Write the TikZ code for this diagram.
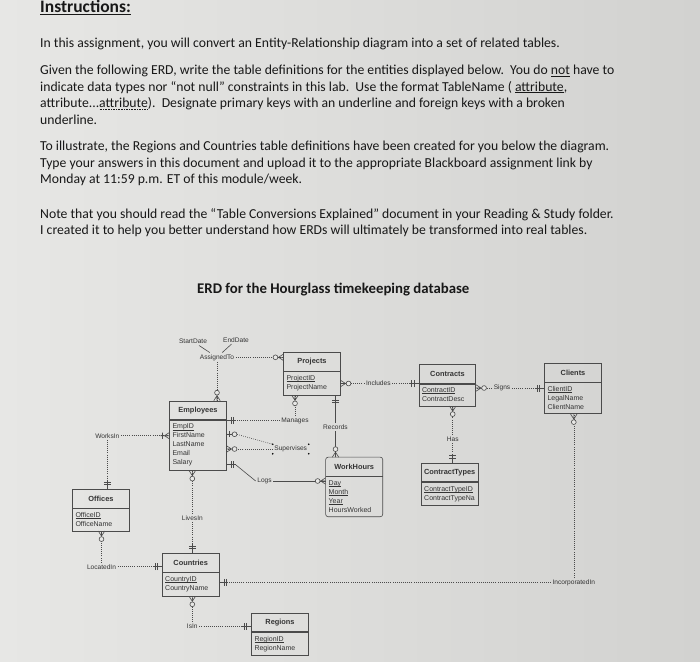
\documentclass[tikz,border=0pt]{standalone}
\usepackage{fontspec}
\setmainfont{Carlito}
\newfontfamily\erdfont{Liberation Sans}
\usetikzlibrary{positioning,calc}

\definecolor{paper}{RGB}{231,231,229}
\definecolor{paperlight}{RGB}{235,235,233}
\definecolor{paperdark}{RGB}{210,210,208}
\definecolor{ink}{RGB}{24,24,24}
\definecolor{erdink}{RGB}{52,52,52}
\definecolor{erdgray}{RGB}{75,75,75}

% broken (dotted) underline
\newcommand\brokenul[1]{\leavevmode\setbox0\hbox{#1}\rlap{\copy0}\raisebox{-2.2pt}{\hbox to \wd0{\xleaders\hbox to 1.6pt{\hss\rule{0.8pt}{0.7pt}\hss}\hfill}}}
% key underline for the ERD
\newcommand\keyul[1]{\leavevmode\setbox0\hbox{#1}\rlap{\copy0}\rule[-1.1pt]{\wd0}{0.45pt}}

\tikzset{
  para/.style={anchor=base west, inner sep=0pt, text=ink, font=\fontsize{13.7}{16.7}\selectfont},
  entity/.style={draw=erdgray, line width=0.6pt, minimum width=56.5pt, minimum height=18.5pt, inner sep=0pt, text=erdink, font=\erdfont\bfseries\fontsize{7.4}{8}\selectfont},
  attrs/.style={draw=erdgray, line width=0.6pt, text width=51pt, inner xsep=2.75pt, inner ysep=4pt, align=left, text=erdink, font=\erdfont\fontsize{7}{9}\selectfont},
  rel/.style={inner sep=1.5pt, text=erdink, font=\erdfont\fontsize{6.6}{8}\selectfont},
  conn/.style={draw=erdgray, line width=0.6pt, dash pattern=on 0.8pt off 1.3pt},
  idconn/.style={draw=erdgray, line width=0.6pt},
  onlyone/.pic={\draw[idconn] (0,0) -- (9,0) (5,-3.5) -- (5,3.5) (7.2,-3.5) -- (7.2,3.5);},
  zeromany/.pic={\draw[idconn] (0,-3.2) -- (5,0) -- (0,3.2) (0,0) -- (5.6,0);
    \draw[idconn, fill=paper] (8,0) circle (2.4);},
  zeroone/.pic={\draw[idconn] (0,0) -- (5.6,0) (2.8,-3.2) -- (2.8,3.2);
    \draw[idconn, fill=paper] (8,0) circle (2.4);},
  onemany/.pic={\draw[idconn] (0,-3.2) -- (5,0) -- (0,3.2) (0,0) -- (9,0) (7,-3.2) -- (7,3.2);}
}

\begin{document}
\begin{tikzpicture}[x=1pt,y=-1pt]

  \useasboundingbox (0,0) rectangle (700,661);
  \shade[left color=paper, middle color=paperlight, right color=paperdark] (0,0) rectangle (700,661);

  %instructions:
  \node[para, font=\bfseries\fontsize{17.5}{20}\selectfont] (head) at (40,12.5) {\underline{Instructions:}};
  \node[para] (intro) at (40,48) {In this assignment, you will convert an Entity-Relationship diagram into a set of related tables.};
  \node[para] (given1) at (40,74.5) {Given the following ERD, write the table definitions for the entities displayed below.\ \ You do \underline{not} have to};
  \node[para] (given2) at (40,91) {indicate data types nor “not null” constraints in this lab.\ \ Use the format TableName ( \underline{attribute},};
  \node[para] (given3) at (40,107.5) {attribute...\brokenul{attribute}).\ \ Designate primary keys with an underline and foreign keys with a broken};
  \node[para] (given4) at (40,124) {underline.};
  \node[para] (illus1) at (40,150.5) {To illustrate, the Regions and Countries table definitions have been created for you below the diagram.};
  \node[para] (illus2) at (40,167) {Type your answers in this document and upload it to the appropriate Blackboard assignment link by};
  \node[para] (illus3) at (40,183.5) {Monday at 11:59 p.m. ET of this module/week.};
  \node[para] (note1) at (40,218) {Note that you should read the “Table Conversions Explained” document in your Reading \& Study folder.};
  \node[para] (note2) at (40,234.5) {I created it to help you better understand how ERDs will ultimately be transformed into real tables.};
  \node[para, font=\bfseries\fontsize{14.8}{17}\selectfont] (title) at (197,293) {ERD for the Hourglass timekeeping database};

  %entities:
  \node[entity] (prj) at (312,361.7) {Projects};
  \node[attrs, below=0pt of prj] (prjA) {\keyul{ProjectID}\\ProjectName};
  \node[entity] (con) at (447.5,374) {Contracts};
  \node[attrs, below=0pt of con] (conA) {\keyul{ContractID}\\ContractDesc};
  \node[entity] (cli) at (573,372.8) {Clients};
  \node[attrs, below=0pt of cli] (cliA) {\keyul{ClientID}\\LegalName\\ClientName};
  \node[entity] (emp) at (198,410.2) {Employees};
  \node[attrs, below=0pt of emp] (empA) {\keyul{EmpID}\\FirstName\\LastName\\Email\\Salary};
  \node[entity, draw=none] (wh) at (354.2,466.7) {WorkHours};
  \node[attrs, draw=none, below=0pt of wh] (whA) {\keyul{Day}\\\keyul{Month}\\\keyul{Year}\\HoursWorked};
  \draw[idconn, rounded corners=2.5pt] (wh.north west) rectangle (whA.south east);
  \draw[idconn] (wh.south west) -- (wh.south east);
  \node[entity] (ct) at (449.7,472.5) {ContractTypes};
  \node[attrs, below=0pt of ct] (ctA) {\keyul{ContractTypeID}\\ContractTypeNa};
  \node[entity] (off) at (101,498.8) {Offices};
  \node[attrs, below=0pt of off] (offA) {\keyul{OfficeID}\\OfficeName};
  \node[entity] (cty) at (190.7,562.8) {Countries};
  \node[attrs, below=0pt of cty] (ctyA) {\keyul{CountryID}\\CountryName};
  \node[entity] (reg) at (280,622.2) {Regions};
  \node[attrs, below=0pt of reg] (regA) {\keyul{RegionID}\\RegionName};

  %relationships:
  \node[rel] (sd) at (193,341.5) {StartDate};
  \node[rel] (ed) at (236,340) {EndDate};
  \node[rel] (asg) at (217,357.3) {AssignedTo};
  \node[rel] (man) at (295,420.7) {Manages};
  \node[rel] (rec) at (335.5,427.3) {Records};
  \node[rel] (sup) at (290.7,449) {Supervises};
  \node[rel] (logs) at (264.5,481) {Logs};
  \node[rel] (wi) at (107.3,435.7) {WorksIn};
  \node[rel] (li) at (192.3,517.7) {LivesIn};
  \node[rel] (loc) at (101.5,566.7) {LocatedIn};
  \node[rel] (isin) at (192.3,626) {IsIn};
  \node[rel] (inc) at (573.8,582.3) {IncorporatedIn};
  \node[rel] (incl) at (378.3,383.5) {Includes};
  \node[rel] (sig) at (502,388) {Signs};
  \node[rel] (has) at (452.7,439) {Has};
  \foreach \c in {north west,north east,south west,south east}
    \fill[black] (sup.\c) circle (0.9);

  %connectors:
  \draw[idconn] (sd) -- (asg);
  \draw[idconn] (ed) -- (asg);
  \draw[conn] (asg.east) -- (asg.east -| prj.west);
  \draw[conn] (asg.south) -- (asg.south |- emp.north);
  \draw[conn] (man.west) -- (man.west -| emp.east);
  \draw[conn] (man.north) -- (man.north |- prjA.south);
  \draw[idconn] (rec.north) -- (rec.north |- prjA.south);
  \draw[idconn] (rec.south) -- (rec.south |- wh.north);
  \draw[conn] ($(empA.north east)+(0,14.5)$) -- ++(10,0) -- (sup.north west);
  \draw[conn] (sup.west) -- (sup.west -| empA.east);
  \draw[idconn] ($(empA.south east)+(0,-6)$) -- ++(9,0) -- (logs.west);
  \draw[idconn] (logs.east) -- (logs.east -| whA.west);
  \draw[conn] (wi.east) -- (wi.east -| empA.west);
  \draw[conn] (wi.south) -- (wi.south |- off.north);
  \draw[conn] (li.north) -- (li.north |- empA.south);
  \draw[conn] (li.south) -- (li.south |- cty.north);
  \draw[conn] (loc.north) -- (loc.north |- offA.south);
  \draw[conn] (loc.east) -- (loc.east -| cty.west);
  \draw[conn] (isin.north) -- (isin.north |- ctyA.south);
  \draw[conn] (isin.east) -- (isin.east -| reg.west);
  \draw[conn] (inc.west) -- (inc.west -| ctyA.east);
  \draw[conn] (inc.north) -- (inc.north |- cliA.south);
  \draw[conn] (incl.west) -- (incl.west -| prjA.east);
  \draw[conn] (incl.east) -- (incl.east -| conA.west);
  \draw[conn] (sig.west) -- (sig.west -| conA.east);
  \draw[conn] (sig.east) -- (sig.east -| cliA.west);
  \draw[conn] (has.north) -- (has.north |- conA.south);
  \draw[conn] (has.south) -- (has.south |- ct.north);

  %cardinality marks:
  \pic[rotate=180] at (asg.east -| prj.west) {zeromany};
  \pic[rotate=90] at (asg.south |- emp.north) {zeromany};
  \pic at (man.west -| emp.east) {onlyone};
  \pic[rotate=-90] at (man.north |- prjA.south) {zeromany};
  \pic[rotate=-90] at (rec.north |- prjA.south) {onlyone};
  \pic[rotate=90] at (rec.south |- wh.north) {zeromany};
  \pic at ($(empA.north east)+(0,14.5)$) {zeroone};
  \pic at (sup.west -| empA.east) {zeromany};
  \pic at ($(empA.south east)+(0,-6)$) {onlyone};
  \pic[rotate=180] at (logs.east -| whA.west) {zeromany};
  \pic[rotate=180] at (wi.east -| empA.west) {onemany};
  \pic[rotate=90] at (wi.south |- off.north) {onlyone};
  \pic[rotate=-90] at (li.north |- empA.south) {zeromany};
  \pic[rotate=90] at (li.south |- cty.north) {onlyone};
  \pic[rotate=-90] at (loc.north |- offA.south) {zeromany};
  \pic[rotate=180] at (loc.east -| cty.west) {onlyone};
  \pic[rotate=-90] at (isin.north |- ctyA.south) {zeromany};
  \pic[rotate=180] at (isin.east -| reg.west) {onlyone};
  \pic at (inc.west -| ctyA.east) {onlyone};
  \pic[rotate=-90] at (inc.north |- cliA.south) {zeromany};
  \pic at (incl.west -| prjA.east) {zeromany};
  \pic[rotate=180] at (incl.east -| conA.west) {onlyone};
  \pic at (sig.west -| conA.east) {zeromany};
  \pic[rotate=180] at (sig.east -| cliA.west) {onlyone};
  \pic[rotate=-90] at (has.north |- conA.south) {zeromany};
  \pic[rotate=90] at (has.south |- ct.north) {onlyone};

\end{tikzpicture}
\end{document}
